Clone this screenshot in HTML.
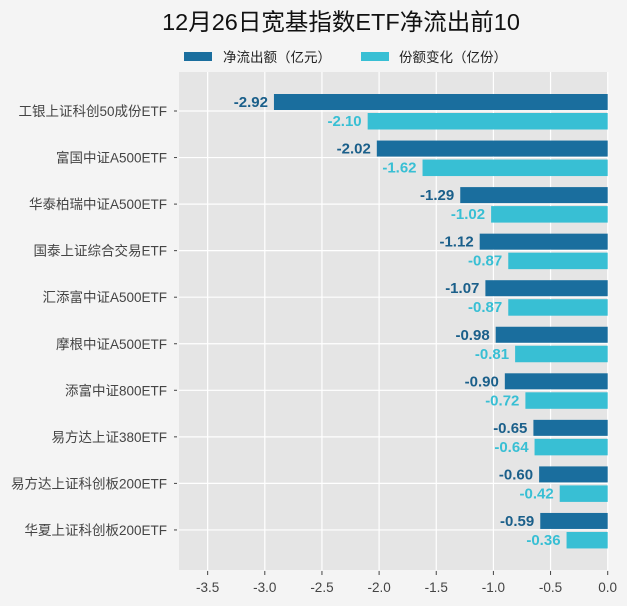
<!DOCTYPE html>
<html><head><meta charset="utf-8"><style>
body{margin:0;background:#f4f4f4;}
svg{display:block;font-family:"Liberation Sans","Noto Sans CJK SC",sans-serif;}
</style></head><body>
<svg width="627" height="606" viewBox="0 0 627 606">
<rect width="627" height="606" fill="#f4f4f4"/>
<text x="341" y="30" font-size="23.5" text-anchor="middle" fill="#111">12月26日宽基指数ETF净流出前10</text>
<rect x="184" y="52" width="28" height="9" fill="#1a6e9e"/>
<text x="223" y="62" font-size="13.5" fill="#222">净流出额（亿元）</text>
<rect x="361" y="52" width="28" height="9" fill="#38bfd4"/>
<text x="399" y="62" font-size="13.5" fill="#222">份额变化（亿份）</text>
<rect x="179" y="72" width="429" height="498" fill="#e5e5e5"/>
<g stroke="#fff" stroke-width="1.2" id="grid"></g>
<g id="bars"></g>
<g id="labels" font-size="13.5" fill="#444"></g>
</svg>
<script>
const ns="http://www.w3.org/2000/svg";
function el(p,t,a,txt){const e=document.createElementNS(ns,t);for(const k in a)e.setAttribute(k,a[k]);if(txt!==undefined)e.textContent=txt;p.appendChild(e);return e;}
const g=document.getElementById('grid'),b=document.getElementById('bars'),l=document.getElementById('labels');
const X=v=>607.7+v*114.3;
const ticks=[-3.5,-3,-2.5,-2,-1.5,-1,-0.5,0];
const svg=document.querySelector('svg');
ticks.forEach(t=>{el(g,'line',{x1:X(t),x2:X(t),y1:72,y2:570});el(svg,'line',{x1:X(t),x2:X(t),y1:571,y2:575,stroke:'#444'});
el(svg,'text',{x:X(t),y:592,'font-size':13.5,'text-anchor':'middle',fill:'#444'},t.toFixed(1));});
const names=["工银上证科创50成份ETF","富国中证A500ETF","华泰柏瑞中证A500ETF","国泰上证综合交易ETF","汇添富中证A500ETF","摩根中证A500ETF","添富中证800ETF","易方达上证380ETF","易方达上证科创板200ETF","华夏上证科创板200ETF"];
const a=[-2.92,-2.02,-1.29,-1.12,-1.07,-0.98,-0.90,-0.65,-0.60,-0.59];
const c=[-2.10,-1.62,-1.02,-0.87,-0.87,-0.81,-0.72,-0.64,-0.42,-0.36];
names.forEach((n,i)=>{const y=111+i*46.55;
el(g,'line',{x1:179,x2:608,y1:y,y2:y});
el(svg,'line',{x1:174,x2:177,y1:y,y2:y,stroke:'#444'});
el(l,'text',{x:167,y:y+5,'text-anchor':'end'},n);
el(b,'rect',{x:X(a[i]),y:y-17,width:607.7-X(a[i]),height:16,fill:'#1a6e9e'});
el(b,'rect',{x:X(c[i]),y:y+2,width:607.7-X(c[i]),height:16.5,fill:'#38bfd4'});
el(b,'text',{x:X(a[i])-6,y:y-4,'text-anchor':'end','font-size':15,'font-weight':'bold',fill:'#1a5f8a'},a[i].toFixed(2));
el(b,'text',{x:X(c[i])-6,y:y+15,'text-anchor':'end','font-size':15,'font-weight':'bold',fill:'#38bfd4'},c[i].toFixed(2));
});
</script>
</body></html>
